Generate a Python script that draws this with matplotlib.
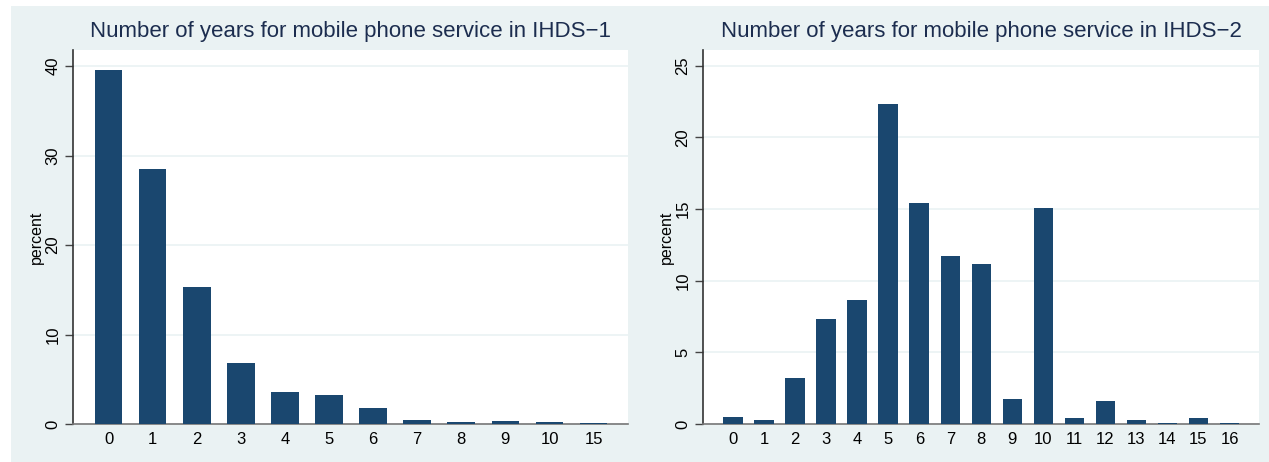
import numpy as np
import matplotlib.pyplot as plt
from matplotlib.patches import Rectangle

# IHDS-1
years1 = ['0', '1', '2', '3', '4', '5', '6', '7', '8', '9', '10', '15']
pct1 = [39.6, 28.5, 15.3, 6.8, 3.6, 3.2, 1.8, 0.45, 0.2, 0.3, 0.2, 0.1]

# IHDS-2
years2 = ['0', '1', '2', '3', '4', '5', '6', '7', '8', '9', '10',
          '11', '12', '13', '14', '15', '16']
pct2 = [0.49, 0.28, 3.2, 7.3, 8.65, 22.35, 15.4, 11.7, 11.15, 1.75, 15.05,
        0.4, 1.6, 0.25, 0.05, 0.4, 0.05]

plt.rcParams['font.family'] = ['Liberation Sans', 'DejaVu Sans']

W, H = 1269, 462
bg = '#eaf2f3'
navy = '#1a476f'

fig = plt.figure(figsize=(W / 100, H / 100), dpi=100)
fig.patch.set_facecolor('white')
# panel background (white strip on top and left edge)
fig.add_artist(Rectangle((11 / W, 0), (W - 11) / W, (H - 6) / H,
                         transform=fig.transFigure, facecolor=bg,
                         edgecolor='none', zorder=0))


def panel(left, right, cats, vals, ymax, yticks, xlo, xhi, title):
    ax = fig.add_axes([left / W, 1 - 424 / H, (right - left) / W, 374 / H])
    ax.set_facecolor('white')
    x = np.arange(len(cats))
    ax.bar(x, vals, width=0.63, color=navy, zorder=3)
    ax.set_xlim(xlo, xhi)
    ax.set_ylim(0, ymax)
    ax.set_xticks(x)
    ax.set_xticklabels(cats, fontsize=12)
    ax.set_yticks(yticks)
    ax.set_yticklabels([str(t) for t in yticks], fontsize=12,
                       rotation=90, va='center')
    ax.tick_params(axis='x', length=0, pad=6)
    ax.tick_params(axis='y', length=6, width=1, color='#444444', pad=3)
    ax.grid(axis='y', color=bg, linewidth=1.2, zorder=1)
    for s in ['top', 'right']:
        ax.spines[s].set_visible(False)
    ax.spines['left'].set_color('#333333')
    ax.spines['bottom'].set_color('#777777')
    ax.spines['left'].set_linewidth(1.2)
    ax.spines['bottom'].set_linewidth(1.2)
    ax.set_ylabel('percent', fontsize=11.5, labelpad=1)
    ax.set_title(title, fontsize=16, color='#1c2d4f', pad=9)
    return ax


panel(73, 628, years1, pct1, 41.8, [0, 10, 20, 30, 40], -0.805, 11.78,
      'Number of years for mobile phone service in IHDS\u22121')
panel(703, 1259, years2, pct2, 26.1, [0, 5, 10, 15, 20, 25], -0.97, 16.95,
      'Number of years for mobile phone service in IHDS\u22122')

fig.savefig('out.png', dpi=100, facecolor=fig.get_facecolor())
